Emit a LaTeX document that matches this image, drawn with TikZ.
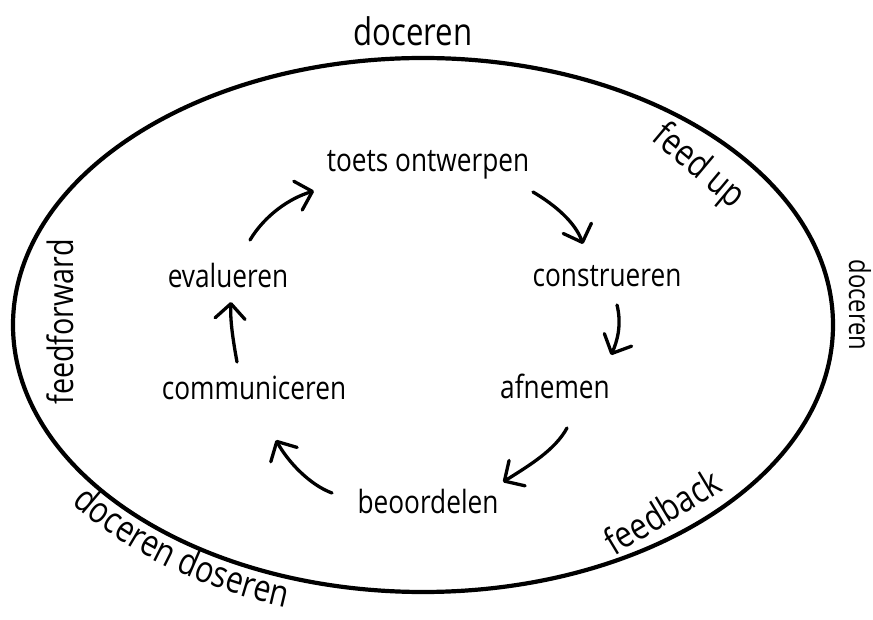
\documentclass[tikz,border=0pt]{standalone}
\usepackage{fontspec}
\setmainfont{Open Sans}[FakeStretch=0.82]
\usetikzlibrary{arrows.meta,calc,decorations.text}
\tikzset{
  lab/.style={inner sep=0pt, anchor=base, font=\fontsize{32}{36}\selectfont},
  outer/.style={inner sep=0pt, anchor=center, font=\fontsize{#1}{#1}\selectfont},
  cyc/.style={line width=3.3pt, line cap=round, line join=round,
    -{Straight Barb[length=15pt,width=30pt,line cap=round,line join=round]}},
}
\begin{document}
\begin{tikzpicture}[x=1pt,y=1pt]
\useasboundingbox (0,0) rectangle (873,619);
\draw[line width=4.2pt] (423,294) ellipse [x radius=410, y radius=267];
% outer labels
\node[outer=38, anchor=base] (dtop) at (413,573) {doceren};
\node[outer=37, rotate=-40] (fup) at (698,452) {feed up};
\node[outer=29, rotate=-90] (dright) at (860,314) {doceren};
\node[outer=35, rotate=90] (ffwd) at (60,297) {feedforward};
\node[outer=37, rotate=31] (fback) at (662,108) {feedback};
\path[decorate, decoration={text along path, text align=center,
  text={|\fontsize{37}{37}\selectfont|doceren doseren}}]
  ($(423,294)+(190:440 and 297)$) arc[start angle=190, end angle=272, x radius=440, y radius=297];
% cycle labels
\node[lab] (toets) at (428,447) {toets ontwerpen};
\node[lab] (constr) at (607,332) {construeren};
\node[lab] (afn) at (555,220) {afnemen};
\node[lab] (beoord) at (428,106) {beoordelen};
\node[lab] (comm) at (254,219) {communiceren};
\node[lab] (eval) at (228,331) {evalueren};
% arrows
\draw[cyc] ($(eval.base)+(22,48)$) .. controls +(15,25) and +(-24,-7) .. ($(toets.base)+(-114,-19)$);
\draw[cyc] ($(toets.base)+(105,-20)$) .. controls +(22,-13) and +(-8,22) .. ($(constr.base)+(-24,43)$);
\draw[cyc] ($(constr.base)+(10,-18)$) .. controls +(5,-20) and +(6,13) .. ($(afn.base)+(56,44)$);
\draw[cyc] ($(afn.base)+(12,-29)$) .. controls +(-12,-22) and +(27,17) .. ($(beoord.base)+(75,31)$);
\draw[cyc] ($(beoord.base)+(-96,20)$) .. controls +(-22,8) and +(12,-22) .. ($(comm.base)+(22,-40)$);
\draw[cyc] ($(comm.base)+(-17,38)$) .. controls +(-4,22) and +(-1,-18) .. ($(eval.base)+(3,-14)$);
\end{tikzpicture}
\end{document}
